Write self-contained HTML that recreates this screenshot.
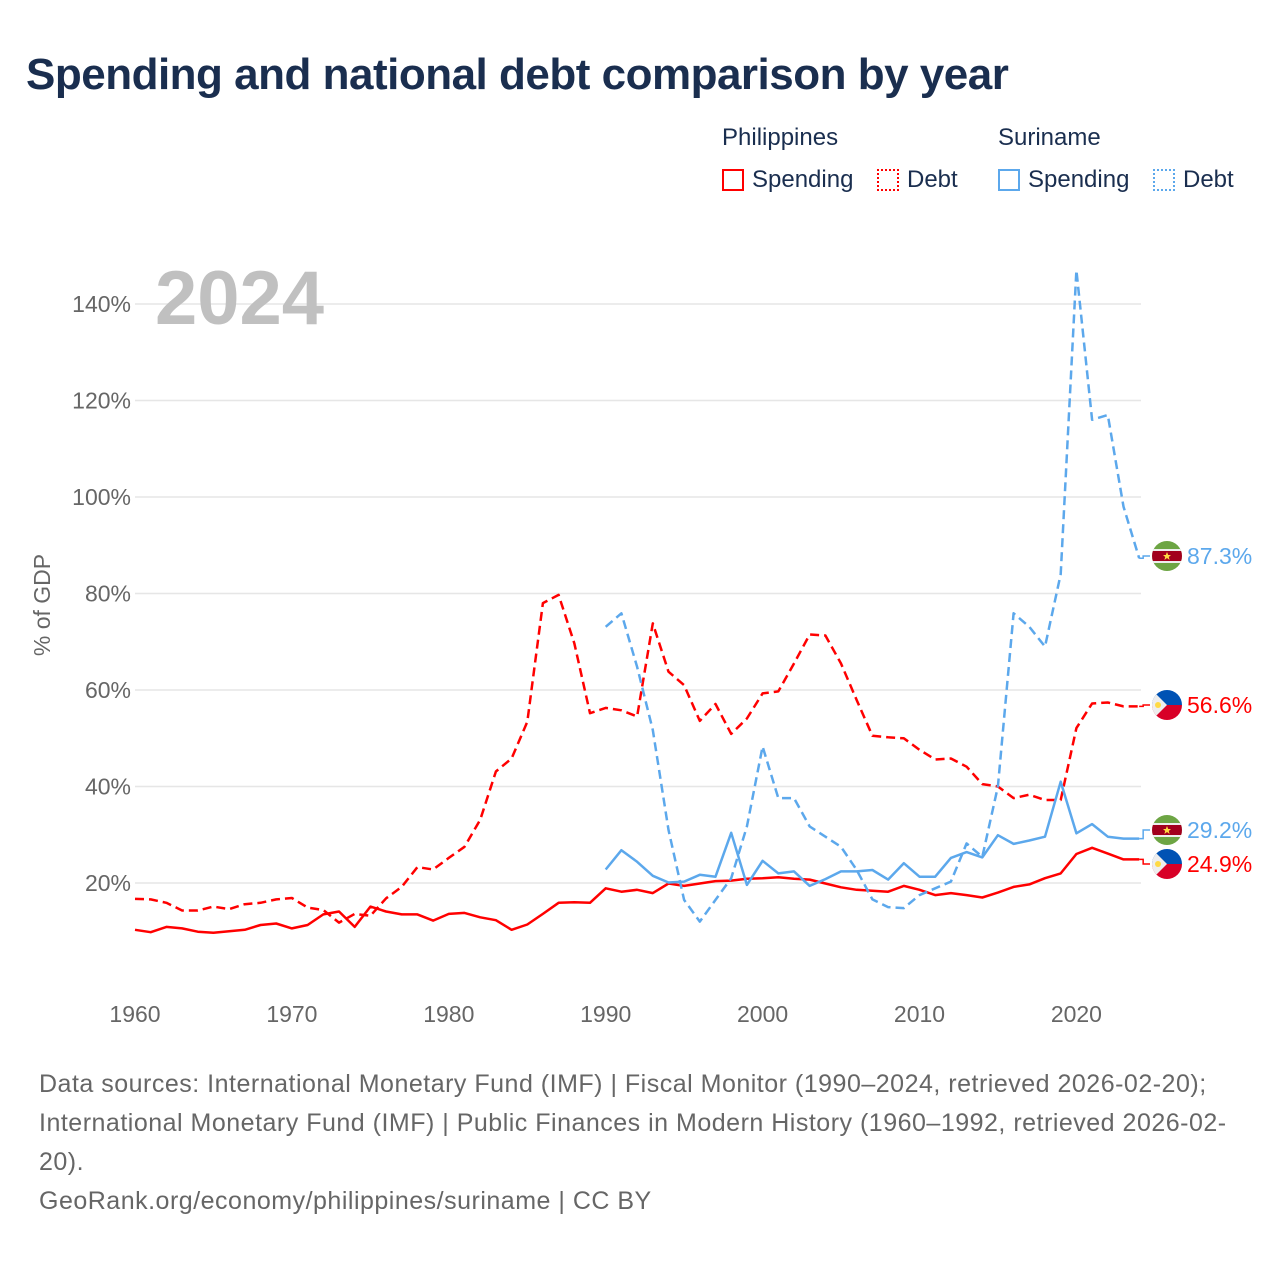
<!DOCTYPE html>
<html><head><meta charset="utf-8">
<style>
html,body{margin:0;padding:0;background:#fff;}
body{width:1280px;height:1280px;position:relative;font-family:"Liberation Sans",sans-serif;overflow:hidden;}
#title{position:absolute;left:26px;top:50px;font-size:44px;font-weight:bold;color:#1a2e4f;letter-spacing:-0.5px;}
.lg{position:absolute;font-size:24px;color:#1a2e4f;}
.box{position:absolute;width:22px;height:22px;box-sizing:border-box;}
#footer{position:absolute;left:39px;top:1065px;width:1195px;font-size:25px;letter-spacing:0.5px;line-height:39px;color:#666;}
svg{position:absolute;left:0;top:0;}
</style></head><body>
<div id="title">Spending and national debt comparison by year</div>
<div class="lg" style="left:722px;top:124px">Philippines</div>
<div class="lg" style="left:998px;top:124px">Suriname</div>
<div class="box" style="left:722px;top:169px;border:2px solid #ff0000"></div>
<div class="lg" style="left:752px;top:166px">Spending</div>
<div class="box" style="left:877px;top:169px;border:2px dotted #ff0000"></div>
<div class="lg" style="left:907px;top:166px">Debt</div>
<div class="box" style="left:998px;top:169px;border:2px solid #5ca8ec"></div>
<div class="lg" style="left:1028px;top:166px">Spending</div>
<div class="box" style="left:1153px;top:169px;border:2px dotted #5ca8ec"></div>
<div class="lg" style="left:1183px;top:166px">Debt</div>

<svg id="chart" width="1280" height="1280"></svg>

<div id="footer">Data sources: International Monetary Fund (IMF) | Fiscal Monitor (1990–2024, retrieved 2026-02-20); International Monetary Fund (IMF) | Public Finances in Modern History (1960–1992, retrieved 2026-02-20).<br>GeoRank.org/economy/philippines/suriname | CC BY</div>

<script>
const yTicks = [20, 40, 60, 80, 100, 120, 140];
const xTicks = [1960, 1970, 1980, 1990, 2000, 2010, 2020];
const phStart = 1960;
const phSpending = [10.3,9.8,10.9,10.6,9.9,9.7,10.0,10.3,11.3,11.6,10.6,11.3,13.5,14.1,10.9,15.1,14.1,13.5,13.5,12.2,13.6,13.8,12.9,12.3,10.3,11.4,13.6,15.9,16.0,15.9,18.9,18.2,18.6,17.9,19.9,19.4,19.9,20.4,20.5,20.9,21.0,21.2,20.9,20.7,19.9,19.1,18.6,18.4,18.2,19.4,18.6,17.5,17.9,17.5,17.0,18.0,19.2,19.7,21.0,22.0,26.0,27.3,26.1,24.9,24.9];
const phDebt = [16.7,16.6,15.9,14.3,14.3,15.1,14.6,15.6,15.9,16.6,16.9,14.9,14.4,11.8,13.6,13.2,16.8,19.2,23.3,22.8,25.2,27.5,33.1,43.1,45.8,53.4,78.0,79.7,69.7,55.2,56.3,55.8,54.5,73.8,63.8,61.0,53.6,57.1,50.9,54.1,59.3,59.7,65.5,71.5,71.3,65.5,57.9,50.5,50.2,50.0,47.6,45.6,45.8,44.1,40.5,40.0,37.6,38.3,37.2,37.2,52.1,57.2,57.4,56.6,56.6];
const srStart = 1990;
const srSpending = [22.8,26.8,24.4,21.5,20.1,20.3,21.7,21.3,30.4,19.6,24.6,22.0,22.4,19.4,20.8,22.4,22.4,22.7,20.7,24.1,21.3,21.3,25.2,26.4,25.3,29.9,28.1,28.8,29.6,41.0,30.3,32.2,29.6,29.2,29.2];
const srDebt = [73.1,75.9,64.8,51.7,31.0,16.5,12.0,16.5,21.0,31.7,48.3,37.6,37.6,31.7,29.6,27.5,22.7,16.6,15.0,14.8,17.5,18.9,20.3,28.2,25.4,40.0,75.9,73.1,69.0,84.0,147.0,116.0,117.0,98.0,87.3];

const NS = "http://www.w3.org/2000/svg";
const svg = document.getElementById('chart');
const X0 = 135, PXY = 15.69, Y0 = 979.5, PXV = 4.825;
const xs = yr => X0 + (yr - 1960) * PXY;
const ys = v => Y0 - v * PXV;
function mk(tag, attrs, parent) {
  const e = document.createElementNS(NS, tag);
  for (const k in attrs) e.setAttribute(k, attrs[k]);
  (parent || svg).appendChild(e);
  return e;
}
yTicks.forEach(t => {
  const g = mk('line', {x1: 135, x2: 1141, y1: ys(t), y2: ys(t), stroke: '#e6e6e6', 'stroke-width': 1.5});
  
  
  const l = mk('text', {x: 131, y: ys(t) + 8, 'text-anchor': 'end', 'font-size': 23, fill: '#666', 'font-family': 'Liberation Sans, sans-serif'});
  l.textContent = t + '%';
  
  
});
xTicks.forEach(t => {
  const l = mk('text', {x: xs(t), y: 1022, 'text-anchor': 'middle', 'font-size': 23, fill: '#666', 'font-family': 'Liberation Sans, sans-serif'});
  l.textContent = t;
  
  
});
const yt = mk('text', {x: 0, y: 0, transform: 'translate(50,605) rotate(-90)', 'text-anchor': 'middle', 'font-size': 23, fill: '#666', 'font-family': 'Liberation Sans, sans-serif'});
yt.textContent = '% of GDP';


const yr = mk('text', {x: 155, y: 324, 'font-size': 76, 'font-weight': 'bold', fill: '#c0c0c0', 'font-family': 'Liberation Sans, sans-serif'});
yr.textContent = '2024';



function series(vals, start, color, dashed, name) {
  const pts = vals.map((v, i) => xs(start + i).toFixed(1) + ',' + ys(v).toFixed(1)).join(' ');
  const p = mk('polyline', {points: pts, fill: 'none', stroke: color, 'stroke-width': 2.5, 'stroke-linejoin': 'round', 'stroke-dasharray': dashed ? '9,5' : 'none'});
  
  
}
series(phSpending, phStart, '#ff0000', false, 'line-philippines-spending');
series(phDebt, phStart, '#ff0000', true, 'line-philippines-debt');
series(srSpending, srStart, '#5ca8ec', false, 'line-suriname-spending');
series(srDebt, srStart, '#5ca8ec', true, 'line-suriname-debt');

function flag(cx, cy, kind, name) {
  const g = mk('g', {});
  
  
  const id = 'c' + Math.round(cy);
  const cp = mk('clipPath', {id: id}, g);
  mk('circle', {cx: cx, cy: cy, r: 15}, cp);
  const inner = mk('g', {'clip-path': 'url(#' + id + ')'}, g);
  if (kind === 'sr') {
    mk('rect', {x: cx - 15, y: cy - 15, width: 30, height: 30, fill: '#6da544'}, inner);
    mk('rect', {x: cx - 15, y: cy - 7, width: 30, height: 14, fill: '#eee'}, inner);
    mk('rect', {x: cx - 15, y: cy - 5, width: 30, height: 10, fill: '#a2001d'}, inner);
    mk('polygon', {points: `${cx},${cy-4} ${cx+1.2},${cy-1} ${cx+4},${cy-1} ${cx+1.8},${cy+1} ${cx+2.6},${cy+4} ${cx},${cy+2} ${cx-2.6},${cy+4} ${cx-1.8},${cy+1} ${cx-4},${cy-1} ${cx-1.2},${cy-1}`, fill: '#ffda44'}, inner);
  } else {
    mk('rect', {x: cx - 15, y: cy - 15, width: 30, height: 15, fill: '#0052b4'}, inner);
    mk('rect', {x: cx - 15, y: cy, width: 30, height: 15, fill: '#d80027'}, inner);
    mk('polygon', {points: `${cx-15},${cy-15} ${cx},${cy} ${cx-15},${cy+15}`, fill: '#eee'}, inner);
    mk('circle', {cx: cx - 9, cy: cy, r: 3, fill: '#ffda44'}, inner);
  }
}
function endLabel(lastVal, labelY, color, kind, text, name) {
  const ex = xs(2024), ey = ys(lastVal);
  const c = mk('polyline', {points: `${ex},${ey} ${ex+4},${ey} ${ex+4},${labelY} ${1150},${labelY}`, fill: 'none', stroke: color, 'stroke-width': 1.5});
  
  
  flag(1167, labelY, kind, name + '-flag');
  const t = mk('text', {x: 1187, y: labelY + 8, 'font-size': 23, fill: color, 'font-family': 'Liberation Sans, sans-serif'});
  t.textContent = text;
  
  
}
endLabel(srDebt[srDebt.length - 1], 556, '#5ca8ec', 'sr', srDebt[srDebt.length - 1].toFixed(1) + '%', 'label-suriname-debt');
endLabel(phDebt[phDebt.length - 1], 705, '#ff0000', 'ph', phDebt[phDebt.length - 1].toFixed(1) + '%', 'label-philippines-debt');
endLabel(srSpending[srSpending.length - 1], 830, '#5ca8ec', 'sr', srSpending[srSpending.length - 1].toFixed(1) + '%', 'label-suriname-spending');
endLabel(phSpending[phSpending.length - 1], 864, '#ff0000', 'ph', phSpending[phSpending.length - 1].toFixed(1) + '%', 'label-philippines-spending');
</script>
</body></html>
